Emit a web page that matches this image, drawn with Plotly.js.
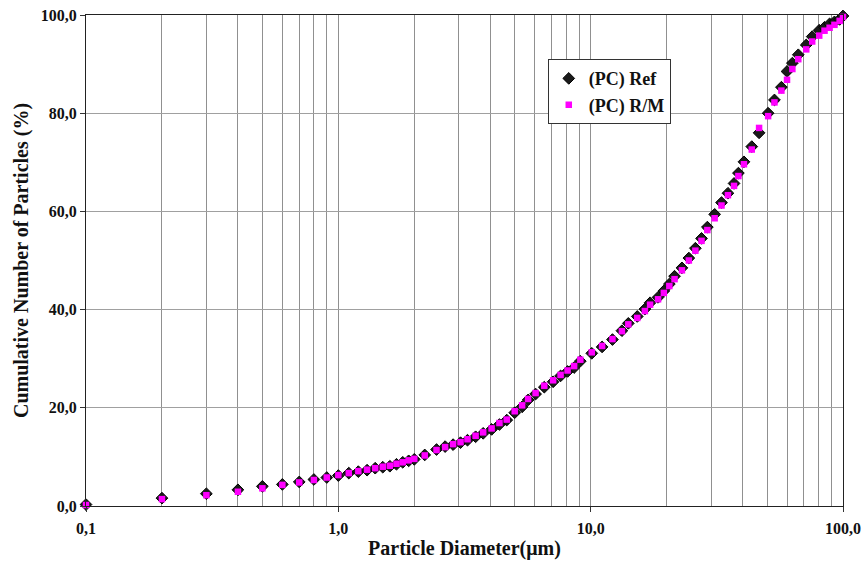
<!DOCTYPE html>
<html>
<head>
<meta charset="utf-8">
<script src="https://cdn.plot.ly/plotly-3.0.1.min.js"></script>
<style>html,body{margin:0;padding:0;background:#fff;}#chart{width:867px;height:566px;}</style>
</head>
<body>
<div id="chart"></div>
<script>
const diameter = [0.1,0.2,0.3,0.4,0.5,0.6,0.7,0.8,0.9,1.0,
  1.1,1.2,1.3,1.4,1.5,1.6,1.7,1.8,1.9,2.0,
  2.2,2.45,2.65,2.85,3.05,3.25,3.5,3.75,4.05,4.35,
  4.65,5.0,5.35,5.65,6.05,6.55,7.1,7.6,8.1,8.6,
  9.1,10.1,11.1,12.2,13.3,14.1,15.3,16.4,17.2,18.5,
  19.5,20.5,21.5,23,24.5,26,27.5,29,31,33,
  35,37,38.5,40.5,43.5,46.5,50.5,53.5,57,60,
  63,66.5,71.5,75.5,80.5,84.5,88.5,92.5,97,100];
const refValues = [0.3,1.6,2.5,3.3,4.0,4.4,4.9,5.4,5.8,6.2,
  6.7,7.0,7.3,7.7,7.9,8.1,8.5,8.9,9.2,9.5,
  10.4,11.5,12.1,12.5,12.9,13.4,14.1,14.8,15.6,16.6,
  17.5,19.0,20.2,21.6,22.8,24.2,25.3,26.5,27.4,28.2,
  29.5,31.1,32.4,33.9,35.7,37.2,38.6,40.1,41.4,42.5,
  43.8,45.2,46.8,48.5,50.5,52.5,54.5,56.8,59.4,61.8,
  63.7,65.7,67.8,70.1,73.2,76.0,80.0,82.7,85.3,88.5,
  90.2,91.9,93.9,95.6,96.9,97.5,98.2,98.6,99.1,99.8];
const rmValues = [0.2,1.4,2.2,2.9,3.6,4.3,4.8,5.3,5.8,6.3,
  6.7,7.1,7.4,7.7,8.0,8.2,8.6,8.9,9.3,9.6,
  10.3,11.4,12.0,12.6,13.0,13.6,14.3,15.0,15.8,16.9,
  17.6,19.3,20.5,21.8,23.0,24.5,25.6,26.7,27.6,28.5,
  29.8,31.3,32.6,34.0,35.6,37.0,38.3,39.7,41.0,42.1,
  43.4,44.8,46.2,48.0,50.0,52.0,54.0,56.2,58.6,61.2,
  63.3,65.2,67.2,69.6,72.6,77.0,79.4,82.2,84.6,86.8,
  89.0,91.0,93.0,94.6,95.8,96.8,97.4,98.0,98.8,99.6];
const seriesNames = ['(PC) Ref', '(PC) R/M'];
const xMajorTicks = [0.1, 1, 10, 100];
const xMajorLabels = ['0,1', '1,0', '10,0', '100,0'];
const xMinorTicks = [0.2,0.3,0.4,0.5,0.6,0.7,0.8,0.9,2,3,4,5,6,7,8,9,20,30,40,50,60,70,80,90];
const xTitle = 'Particle Diameter(μm)';
const yTitle = 'Cumulative Number of Particles (%)';

const serif = 'Liberation Serif, Times New Roman, serif';
const traces = [
  {x: diameter, y: refValues, name: seriesNames[0], type: 'scatter', mode: 'markers', cliponaxis: false,
   marker: {symbol: 'diamond', size: 9, color: '#1a1a1a', line: {color: '#000', width: 1}}},
  {x: diameter, y: rmValues, name: seriesNames[1], type: 'scatter', mode: 'markers', cliponaxis: false,
   marker: {symbol: 'square', size: 6.5, color: '#ff00ff', line: {width: 0}}}
];
const layout = {
  width: 867, height: 566,
  margin: {l: 86, r: 24, t: 15, b: 60},
  paper_bgcolor: '#fff', plot_bgcolor: '#fff',
  separators: ',.',
  font: {family: serif, color: '#111', weight: 'bold'},
  showlegend: true,
  legend: {x: 0.61, y: 0.91, xanchor: 'left', yanchor: 'top', bgcolor: '#fff',
    bordercolor: '#333', borderwidth: 1, font: {family: serif, size: 18, weight: 'bold', color: '#111'},
    itemwidth: 30, tracegroupgap: 0},
  xaxis: {type: 'log', range: [-1, 2], tickmode: 'array', tickvals: xMajorTicks, ticktext: xMajorLabels,
    ticks: 'outside', ticklen: 5, tickcolor: '#333', ticklabelstandoff: 3,
    showline: true, linecolor: '#222', linewidth: 1, mirror: true,
    showgrid: true, gridcolor: '#909090', gridwidth: 1, zeroline: false,
    minor: {tickmode: 'array', tickvals: xMinorTicks, showgrid: true, gridcolor: '#909090', gridwidth: 1, ticks: ''},
    tickfont: {family: serif, size: 16, weight: 'bold', color: '#111'},
    title: {text: xTitle, font: {family: serif, size: 20, weight: 'bold', color: '#111'}, standoff: 4}},
  yaxis: {range: [0, 100], dtick: 20, tick0: 0, tickformat: '.1f',
    ticks: 'outside', ticklen: 5, tickcolor: '#333', showline: true, linecolor: '#222', linewidth: 1, mirror: true,
    showgrid: true, gridcolor: '#a0a0a0', gridwidth: 1, zeroline: false,
    tickfont: {family: serif, size: 16, weight: 'bold', color: '#111'},
    title: {text: yTitle, font: {family: serif, size: 20, weight: 'bold', color: '#111'}, standoff: 6}}
};
Plotly.newPlot('chart', traces, layout, {staticPlot: true, displayModeBar: false});
</script>
</body>
</html>
